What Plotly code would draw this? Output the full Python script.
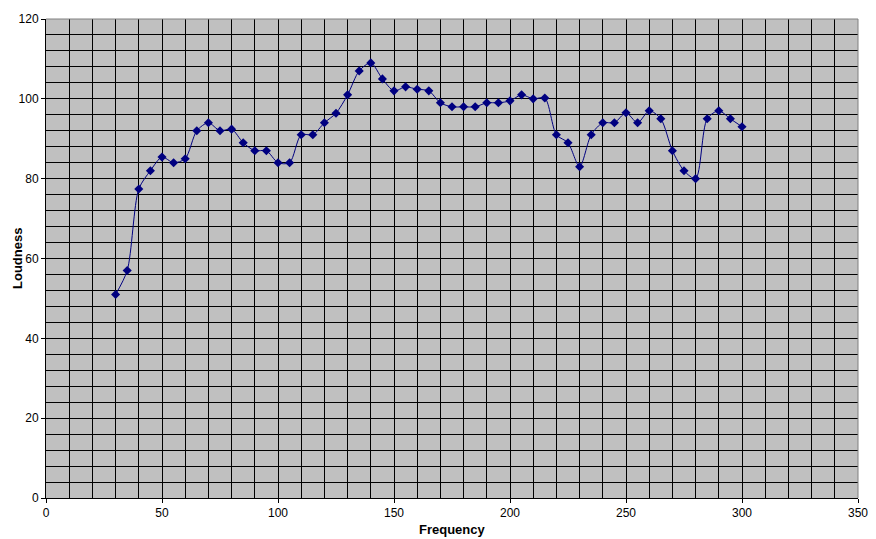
import plotly.graph_objects as go

frequency = [30, 35, 40, 45, 50, 55, 60, 65, 70, 75, 80, 85, 90, 95, 100, 105, 110, 115, 120, 125,
             130, 135, 140, 145, 150, 155, 160, 165, 170, 175, 180, 185, 190, 195, 200, 205, 210, 215,
             220, 225, 230, 235, 240, 245, 250, 255, 260, 265, 270, 275, 280, 285, 290, 295, 300]
loudness = [51, 57, 77.4, 82, 85.4, 84, 85, 92, 94, 92, 92.4, 89, 87, 87, 84, 84, 91, 91, 94, 96.4,
            101, 107, 109, 105, 102, 103, 102.4, 102, 99, 98, 98, 98, 99, 99, 99.5, 101, 100, 100.2,
            91, 89, 83, 91, 94, 94, 96.5, 94, 97, 95, 87, 82, 80, 95, 97, 95, 93]

x_title = "Frequency"
y_title = "Loudness"

fig = go.Figure()
fig.add_trace(go.Scatter(
    x=frequency, y=loudness, mode="lines+markers",
    line=dict(color="#000080", width=1, shape="spline", smoothing=0.8),
    marker=dict(symbol="diamond", size=7, color="#000080"),
    showlegend=False,
))

font = dict(family="Liberation Sans, Arial, sans-serif", size=12, color="black")
title_font = dict(family="Liberation Sans, Arial, sans-serif", size=13, color="black")

# page body has an 8px margin, so the figure is 8px smaller and margins are shifted
fig.update_layout(
    width=868, height=531,
    margin=dict(l=38, r=18, t=11, b=41, autoexpand=False),
    paper_bgcolor="white", plot_bgcolor="#C0C0C0",
    font=font,
    xaxis=dict(range=[0, 350], dtick=50, tick0=0, showgrid=True, gridcolor="black", gridwidth=1,
               minor=dict(dtick=10, tick0=0, showgrid=True, gridcolor="black", gridwidth=1),
               showline=True, linecolor="black", linewidth=1, automargin=False,
               ticks="outside", ticklen=4, tickcolor="black", zeroline=False, fixedrange=True),
    yaxis=dict(range=[0, 120], dtick=20, tick0=0, showgrid=True, gridcolor="black", gridwidth=1,
               minor=dict(dtick=4, tick0=0, showgrid=True, gridcolor="black", gridwidth=1),
               showline=True, linecolor="black", linewidth=1, automargin=False,
               ticks="outside", ticklen=4, tickcolor="black", zeroline=False, fixedrange=True),
    shapes=[
        dict(type="line", xref="paper", yref="paper", x0=0, x1=1, y0=1, y1=1,
             line=dict(color="#808080", width=1), layer="above"),
        dict(type="line", xref="paper", yref="paper", x0=1, x1=1, y0=0, y1=1,
             line=dict(color="#808080", width=1), layer="above"),
    ],
    annotations=[
        dict(text="<b>" + x_title + "</b>", xref="paper", yref="paper", x=0.5, y=-41 / 479,
             xanchor="center", yanchor="bottom", showarrow=False, font=title_font),
        dict(text="<b>" + y_title + "</b>", xref="paper", yref="paper", x=-38 / 812, y=0.5,
             xanchor="left", yanchor="middle", textangle=-90, showarrow=False, font=title_font),
    ],
)

fig.write_html("out.html")
